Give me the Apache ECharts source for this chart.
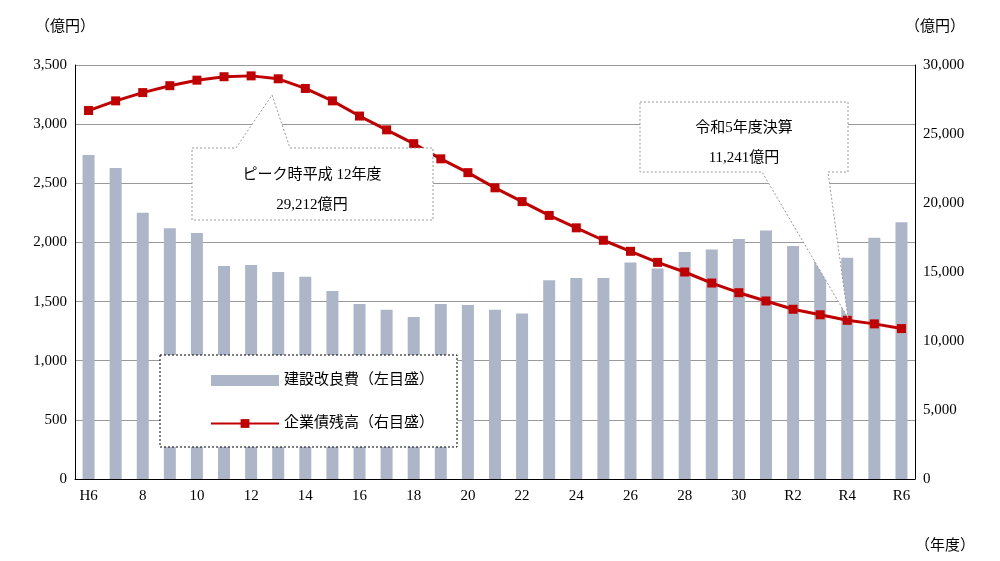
<!DOCTYPE html>
<html><head><meta charset="utf-8">
<script src="https://cdn.jsdelivr.net/npm/echarts@6/dist/echarts.min.js"></script>
<style>html,body{margin:0;padding:0;background:#fff}#c{width:1000px;height:561px}</style>
</head><body><div id="c"></div>
<script>
const categories = ['H6','7','8','9','10','11','12','13','14','15','16','17','18','19','20','21','22','23','24','25','26','27','28','29','30','R1','R2','R3','R4','R5','R6'];
const constructionCost = [2740,2630,2250,2120,2080,1800,1810,1750,1710,1590,1480,1430,1370,1480,1470,1430,1400,1680,1700,1700,1830,1780,1920,1940,2030,2100,1970,1860,1870,2040,2170];
const bondBalance = [26700,27400,28000,28500,28900,29150,29212,29000,28300,27400,26300,25300,24300,23200,22200,21100,20100,19100,18200,17300,16500,15700,15000,14200,13500,12900,12300,11900,11500,11241,10900];
const F = '"Liberation Serif","Noto Sans CJK JP",serif';
const chart = echarts.init(document.getElementById('c'));
chart.setOption({
  animation:false,
  textStyle:{fontFamily:F,color:'#000'},
  grid:{left:75,right:85,top:65,bottom:82},
  xAxis:{type:'category',data:categories,boundaryGap:true,
    axisLine:{lineStyle:{color:'#000'}},axisTick:{show:false},
    axisLabel:{interval:1,fontSize:15,color:'#000',fontFamily:F,margin:10},
    name:'（年度）',nameLocation:'end',nameGap:0,
    nameTextStyle:{fontSize:15,color:'#000',padding:[60,0,0,0],verticalAlign:'top'}},
  yAxis:[
    {type:'value',min:0,max:3500,interval:500,
     axisLine:{show:true,lineStyle:{color:'#000'}},axisTick:{show:false},
     axisLabel:{fontSize:15,color:'#000',fontFamily:F,formatter:v=>v.toLocaleString('en-US')},
     splitLine:{lineStyle:{color:'#999'}},
     name:'（億円）',nameGap:30,nameTextStyle:{fontSize:15,color:'#000',padding:[0,0,0,-20]}},
    {type:'value',min:0,max:30000,interval:5000,
     axisLine:{show:true,lineStyle:{color:'#000'}},axisTick:{show:false},
     axisLabel:{fontSize:15,color:'#000',fontFamily:F,formatter:v=>v.toLocaleString('en-US')},
     splitLine:{show:false},
     name:'（億円）',nameGap:30,nameTextStyle:{fontSize:15,color:'#000',padding:[0,0,0,40]}}
  ],
  legend:{orient:'vertical',left:205,top:368,itemGap:28,itemWidth:68,itemHeight:11,z:30,
    textStyle:{fontSize:15,fontFamily:F,color:'#000'},
    data:[{name:'建設改良費（左目盛）',icon:'rect'},{name:'企業債残高（右目盛）'}]},
  graphic:[
    {type:'rect',shape:{x:160,y:355,width:297,height:92},style:{fill:'#fff',stroke:'#000',lineDash:[2,2],lineWidth:1},z:20},
    {type:'polygon',shape:{points:[[192,148],[236,148],[272,95],[290,148],[433,148],[433,220],[192,220]]},style:{fill:'#fff',stroke:'#999',lineDash:[2,2]},z:100},
    {type:'text',x:312,y:160,style:{text:'ピーク時平成 12年度\n29,212億円',fontSize:15,fontFamily:F,fill:'#000',align:'center',lineHeight:30},z:101},
    {type:'polygon',shape:{points:[[640,102],[848,102],[848,172],[828,172],[848,318],[762,172],[640,172]]},style:{fill:'#fff',stroke:'#999',lineDash:[2,2]},z:100},
    {type:'text',x:744,y:113,style:{text:'令和5年度決算\n11,241億円',fontSize:15,fontFamily:F,fill:'#000',align:'center',lineHeight:30},z:101}
  ],
  series:[
    {name:'建設改良費（左目盛）',type:'bar',yAxisIndex:0,data:constructionCost,barWidth:12,itemStyle:{color:'#adb6c8'}},
    {name:'企業債残高（右目盛）',type:'line',yAxisIndex:1,data:bondBalance,symbol:'rect',symbolSize:9,
     lineStyle:{color:'#c00000',width:3},itemStyle:{color:'#c00000'},z:50}
  ]
});
</script></body></html>
